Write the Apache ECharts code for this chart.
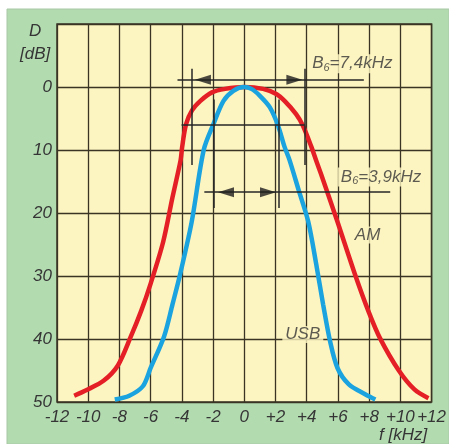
<!DOCTYPE html>
<html>
<head>
<meta charset="utf-8">
<script src="https://cdn.jsdelivr.net/npm/echarts@6/dist/echarts.min.js"></script>
<style>
html, body { margin: 0; padding: 0; background: #ffffff; }
#main { width: 449px; height: 444px; }
</style>
</head>
<body>
<div id="main"></div>
<script>
// frequency offset [kHz] / attenuation [dB]
var amFreq = [-10.9, -10.1, -9.0, -8.1, -7.3, -6.6, -6.0, -5.2, -4.6, -4.08, -3.98, -3.73, -3.35, -2.81, -2.07, -1.23, 0, 1.2, 2.05, 2.58, 3.32, 3.75, 4.3, 4.65, 5.0, 5.97, 7.1, 7.97, 8.7, 9.9, 10.9, 11.8];
var amDb = [49.0, 48.1, 46.6, 44.2, 39.8, 35.5, 31.2, 24.6, 17.5, 11.6, 9.5, 5.9, 3.7, 2.2, 0.85, 0.3, 0, 0.3, 1.1, 2.2, 4.3, 6.1, 9.5, 12.0, 14.4, 21.4, 29.8, 35.7, 39.9, 45.0, 48.0, 49.4];

var usbFreq = [-8.3, -7.37, -6.5, -6.0, -5.14, -4.6, -4.1, -3.37, -2.6, -1.97, -1.33, -0.7, 0, 0.46, 1.0, 1.63, 2.16, 2.58, 2.9, 3.5, 4.1, 4.6, 5.05, 5.5, 5.97, 6.7, 7.77, 8.4];
var usbDb = [49.6, 49.0, 47.5, 44.6, 39.6, 34.5, 29.6, 21.4, 10.0, 5.85, 2.2, 0.6, 0, 0.3, 1.4, 3.2, 6.1, 9.5, 11.6, 16.5, 21.4, 28.0, 34.5, 40.4, 44.6, 47.2, 48.8, 49.6];

// bandwidth dimension lines [f1, dB1, f2, dB2]
var dimLines = [
    [-4.28, -1.15, 7.66, -1.15],
    [-3.38, -2.9, -3.38, 12.4],
    [3.86, -2.9, 3.86, 12.4],
    [-4.02, 6.0, 3.86, 6.0],
    [-2.56, 16.7, 9.35, 16.7],
    [-1.94, 2.0, -1.94, 19.2],
    [2.19, 2.0, 2.19, 19.2]
];
// arrow heads [f, dB, direction]
var arrowHeads = [
    [-2.65, -1.15, 'left'],
    [3.21, -1.15, 'right'],
    [-1.17, 16.7, 'left'],
    [1.52, 16.7, 'right']
];
// curve / bandwidth labels [f, dB, text]
var labels = [
    [6.92, -3.7, 'B{s|6}=7,4kHz'],
    [8.76, 14.3, 'B{s|6}=3,9kHz'],
    [7.9, 23.5, 'AM'],
    [3.75, 39.3, 'USB']
];

function pairs(xs, ys) {
    return xs.map(function (x, i) { return [x, ys[i]]; });
}

var txtColor = '#353535';
var gridColor = '#3a3424';
var fontFam = '"Liberation Sans", Arial, sans-serif';

var myChart = echarts.init(document.getElementById('main'));

var option = {
    animation: false,
    backgroundColor: '#ffffff',
    graphic: [
        {
            type: 'rect', z: -10, silent: true,
            shape: { x: 7, y: 9, width: 442, height: 435 },
            style: { fill: '#b3dbb0', stroke: '#a9c8a6', lineWidth: 1 }
        },
        {
            type: 'text', left: 29, top: 23,
            style: { text: 'D', fill: txtColor, font: 'italic 17px ' + fontFam }
        },
        {
            type: 'text', left: 20, top: 46,
            style: { text: '[dB]', fill: txtColor, font: 'italic 17px ' + fontFam }
        },
        {
            type: 'text', left: 379, top: 427,
            style: { text: 'f [kHz]', fill: txtColor, font: 'italic 17px ' + fontFam }
        }
    ],
    grid: {
        left: 57,
        right: 14,
        top: 24,
        bottom: 42,
        show: true,
        backgroundColor: '#fdf5c1',
        borderColor: gridColor,
        borderWidth: 1.5
    },
    xAxis: {
        type: 'value',
        min: -12,
        max: 12,
        interval: 2,
        axisLine: { show: false },
        axisTick: { show: false },
        splitLine: { show: true, lineStyle: { color: gridColor, width: 1.3 } },
        axisLabel: {
            margin: 7,
            color: txtColor,
            fontStyle: 'italic',
            fontSize: 17,
            fontFamily: fontFam,
            showMinLabel: true,
            showMaxLabel: true,
            formatter: function (v) { return v > 0 ? '+' + v : String(v); }
        }
    },
    yAxis: {
        type: 'value',
        inverse: true,
        min: -10,
        max: 50,
        interval: 10,
        axisLine: { show: false },
        axisTick: { show: false },
        splitLine: { show: true, lineStyle: { color: gridColor, width: 1.3 } },
        axisLabel: {
            margin: 5,
            color: txtColor,
            fontStyle: 'italic',
            fontSize: 17,
            fontFamily: fontFam,
            formatter: function (v) { return v < 0 ? '' : String(v); }
        }
    },
    series: [
        {
            name: 'dims',
            type: 'line',
            data: [],
            silent: true,
            markLine: {
                silent: true,
                symbol: 'none',
                label: { show: false },
                lineStyle: { color: '#262626', width: 1.5, type: 'solid' },
                data: dimLines.map(function (d) {
                    return [{ coord: [d[0], d[1]] }, { coord: [d[2], d[3]] }];
                })
            }
        },
        {
            name: 'AM',
            type: 'line',
            smooth: 0.3,
            showSymbol: false,
            z: 3,
            lineStyle: { color: '#e41f26', width: 4.5 },
            data: pairs(amFreq, amDb)
        },
        {
            name: 'USB',
            type: 'line',
            smooth: 0.3,
            showSymbol: false,
            z: 4,
            lineStyle: { color: '#1aa3df', width: 4.5 },
            data: pairs(usbFreq, usbDb)
        },
        {
            name: 'arrows',
            type: 'scatter',
            silent: true,
            z: 5,
            symbol: 'triangle',
            symbolSize: [10, 16],
            itemStyle: { color: '#1e1e1e' },
            data: arrowHeads.map(function (a) {
                return { value: [a[0], a[1]], symbolRotate: a[2] === 'left' ? 90 : -90 };
            })
        },
        {
            name: 'labels',
            type: 'scatter',
            silent: true,
            z: 6,
            symbolSize: 0,
            data: labels.map(function (l) { return { value: [l[0], l[1]], text: l[2] }; }),
            label: {
                show: true,
                position: 'inside',
                formatter: function (p) { return p.data.text; },
                color: txtColor,
                fontStyle: 'italic',
                fontSize: 17,
                fontFamily: fontFam,
                backgroundColor: '#fdf5c1',
                padding: [0, 3],
                rich: {
                    s: {
                        fontSize: 11,
                        fontStyle: 'italic',
                        fontFamily: fontFam,
                        color: txtColor,
                        verticalAlign: 'bottom',
                        padding: [8, 0, 0, 0]
                    }
                }
            }
        }
    ]
};

myChart.setOption(option);
</script>
</body>
</html>
